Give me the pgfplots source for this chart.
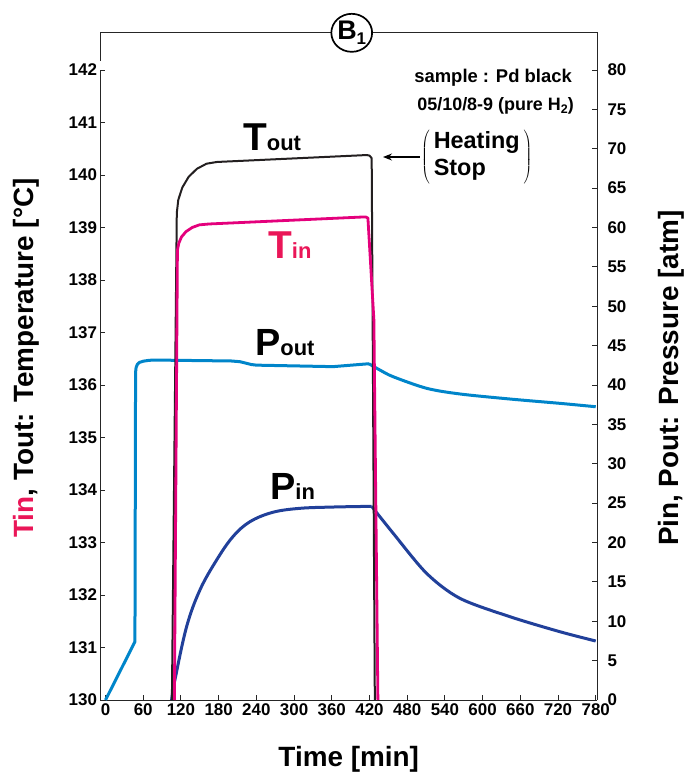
\documentclass[border=0pt]{standalone}
\usepackage{fontspec}
\setmainfont{Liberation Sans}
\usepackage{pgfplots}
\pgfplotsset{compat=1.18}
\usetikzlibrary{arrows.meta,shapes.geometric}
\definecolor{toutc}{RGB}{35,31,32}
\definecolor{tinc}{RGB}{228,0,124}
\definecolor{tinlabel}{RGB}{234,22,88}
\definecolor{poutc}{RGB}{0,133,202}
\definecolor{pinc}{RGB}{33,64,154}
\pgfplotsset{
  common/.style={
    scale only axis, width=496.5bp, height=630bp, xmin=-8, xmax=782,
    tick align=inside, major tick length=5bp,
    axis line style={-, line width=0.9bp, color=black!85},
    tick style={line width=0.9bp, color=black!85},
    ticklabel style={font=\bfseries\fontsize{17}{17}\selectfont},
    /pgf/number format/assume math mode=true,
    label style={font=\bfseries\fontsize{28}{28}\selectfont},
  }
}
\begin{document}
\begin{tikzpicture}
% ---------------- pressure axis (right) ----------------
\begin{axis}[common, ymin=0, ymax=80,
  axis x line*=bottom, axis y line*=right,
  ytick={0,5,...,80}, xtick={0,60,...,780},
  xlabel={Time [min]}, ylabel={Pin, Pout: Pressure [atm]},
  yticklabel style={xshift=7bp},
  xlabel style={at={(axis description cs:0.5,-0.1063)}, anchor=base},
  ylabel style={at={(axis description cs:1.149,0.511)}, anchor=center},
]
% Pout
\addplot[poutc, line width=3bp, line join=round] coordinates {
 (0,0) (46.8,7.4) (47.8,41.6) (48.6,42.2) (50.5,42.6) (54,42.87) (60,43.02)
 (68,43.12) (75.9,43.17) (200,43.05) (213.8,42.96) (222,42.8) (232,42.6)
 (240.4,42.52) (361.8,42.33) (419,42.7)
};
\addplot[poutc, line width=3bp, line join=round, smooth, tension=0.5] coordinates {
 (419,42.7) (436.6,41.9) (457.7,41.05) (510.9,39.58) (563.9,38.86) (643.4,38.22)
 (723,37.67) (780,37.24)
};
% Pin
\addplot[pinc, line width=3bp, line join=round, smooth, tension=0.6] coordinates {
 (105.2,0) (110.4,2.54) (129,9.31) (150.2,13.97) (176.8,17.78) (202.7,20.74)
 (229.8,22.64) (266.4,23.84) (309.3,24.34) (360,24.5) (404.8,24.57) (423.4,24.6)
};
\addplot[pinc, line width=3bp, line join=round, smooth, tension=0.5] coordinates {
 (423.4,24.6) (457.7,21.17) (510.9,16.08) (563.9,12.91) (643.4,10.58) (723,8.67) (780,7.49)
};
\coordinate (bl) at (rel axis cs:0,0);
\coordinate (tr) at (rel axis cs:1,1);
\end{axis}
% ---------------- temperature axis (left) ----------------
\begin{axis}[common, ymin=130, ymax=142, clip=false,
  axis x line=none, axis y line*=left,
  ytick={130,131,...,142},
  ylabel={\textcolor{tinlabel}{Tin}, Tout: Temperature [°C]},
  ylabel style={at={(axis description cs:-0.150,0.543)}, anchor=center},
]
\addplot[toutc, line width=2bp, line join=round] coordinates {
 (105.6,130) (113.4,139.276) (115.8,139.528) (122.2,139.762) (132.2,139.964)
 (145.4,140.118) (160.7,140.215) (177.2,140.248) (415.5,140.38) (420,140.37)
 (423.5,140.32) (425,137.24) (428.5,130)
};
\addplot[tinc, line width=2.8bp, line join=round] coordinates {
 (109.6,130) (114.4,138.571) (116.6,138.70) (120.8,138.819) (128.1,138.922)
 (137.9,139.0) (149.2,139.05) (164.8,139.067) (409.5,139.2) (414,139.2)
 (417.5,139.18) (427,137.24) (433.4,130)
};
% top frame and circle label
\draw[line width=0.9bp, black!85] (rel axis cs:0,1.0143) -- (rel axis cs:0,1.059)
   -- (rel axis cs:1,1.059) -- (rel axis cs:1,1);
\node[draw, ellipse, line width=1.7bp, fill=white, minimum width=38bp, minimum height=38bp,
  inner sep=0, anchor=center] at (rel axis cs:0.506,1.059)
  {\bfseries\fontsize{27}{27}\selectfont B\raisebox{-4.5bp}{\fontsize{17}{17}\selectfont 1}};
% curve labels
\node[anchor=base west, inner sep=0] at (rel axis cs:0.2870,0.8730)
  {\bfseries{\fontsize{39}{39}\selectfont T}{\fontsize{22}{22}\selectfont out}};
\node[anchor=base west, inner sep=0, text=tinlabel] at (rel axis cs:0.3374,0.7000)
  {\bfseries{\fontsize{39}{39}\selectfont T}{\fontsize{22}{22}\selectfont in}};
\node[anchor=base west, inner sep=0] at (rel axis cs:0.3112,0.5476)
  {\bfseries{\fontsize{38}{38}\selectfont P}{\fontsize{22}{22}\selectfont out}};
\node[anchor=base west, inner sep=0] at (rel axis cs:0.3414,0.3175)
  {\bfseries{\fontsize{38}{38}\selectfont P}{\fontsize{22}{22}\selectfont in}};
% sample text
\node[anchor=base east, inner sep=0] at (rel axis cs:0.9496,0.9794)
  {\bfseries\fontsize{18.5}{18.5}\selectfont sample : Pd black};
\node[anchor=base east, inner sep=0] at (rel axis cs:0.9537,0.9365)
  {\bfseries\fontsize{18}{18}\selectfont 05/10/8-9 (pure H\raisebox{-3bp}{\fontsize{12.5}{12.5}\selectfont 2})};
% heating stop
\node[anchor=west, inner sep=0] at (rel axis cs:0.6455,0.8619)
  {\bfseries\fontsize{23.5}{27}\selectfont $\left(\begin{tabular}{@{\,}l@{\,}}Heating\\Stop\end{tabular}\right)$};
\draw[-{Stealth[length=9bp,width=7bp,inset=3bp]}, line width=1.2bp]
  (rel axis cs:0.6435,0.8619) -- (rel axis cs:0.569,0.8619);
\end{axis}
\pgfresetboundingbox
\path ([xshift=-100.5bp,yshift=-76bp]bl) rectangle ([xshift=88bp,yshift=70bp]tr);
\end{tikzpicture}
\end{document}
